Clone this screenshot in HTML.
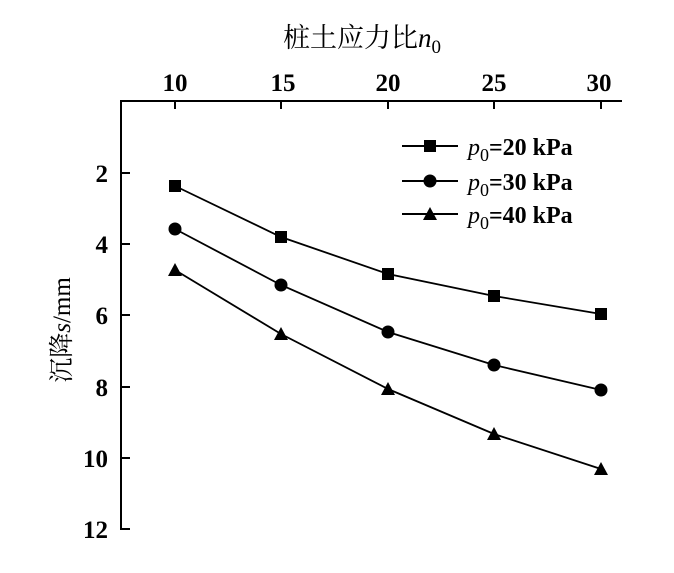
<!DOCTYPE html>
<html><head><meta charset="utf-8"><style>body{margin:0;background:#fff}</style></head>
<body>
<svg width="674" height="568" xmlns="http://www.w3.org/2000/svg" font-family="Liberation Serif, 'Noto Serif CJK SC', serif">
<rect width="674" height="568" fill="#fff"/>
<g stroke="#000" stroke-width="2" fill="none">
<line x1="121" y1="101" x2="622" y2="101"/>
<line x1="121" y1="100" x2="121" y2="530"/>
<line x1="175" y1="101" x2="175" y2="109"/><line x1="281" y1="101" x2="281" y2="109"/><line x1="388" y1="101" x2="388" y2="109"/><line x1="494" y1="101" x2="494" y2="109"/><line x1="601" y1="101" x2="601" y2="109"/>
<line x1="121" y1="173" x2="130" y2="173"/><line x1="121" y1="244" x2="130" y2="244"/><line x1="121" y1="315" x2="130" y2="315"/><line x1="121" y1="387" x2="130" y2="387"/><line x1="121" y1="458" x2="130" y2="458"/><line x1="121" y1="529" x2="130" y2="529"/>
<polyline stroke-width="1.8" points="175,186 281,237 388,274 494,296 601,314"/>
<polyline stroke-width="1.8" points="175,229 281,285 388,332 494,365 601,390"/>
<polyline stroke-width="1.8" points="175,270 281,334 388,389 494,434 601,469"/>
<line x1="402" y1="146" x2="458" y2="146"/><line x1="402" y1="181" x2="458" y2="181"/><line x1="402" y1="214" x2="458" y2="214"/>
</g>
<g fill="#000">
<rect x="169" y="180" width="12" height="12"/><rect x="275" y="231" width="12" height="12"/><rect x="382" y="268" width="12" height="12"/><rect x="488" y="290" width="12" height="12"/><rect x="595" y="308" width="12" height="12"/>
<circle cx="175" cy="229" r="6.5"/><circle cx="281" cy="285" r="6.5"/><circle cx="388" cy="332" r="6.5"/><circle cx="494" cy="365" r="6.5"/><circle cx="601" cy="390" r="6.5"/>
<path d="M175,263 l7,13 h-14z M281,327 l7,13 h-14z M388,382 l7,13 h-14z M494,427 l7,13 h-14z M601,462 l7,13 h-14z"/>
<rect x="424" y="140" width="12" height="12"/><circle cx="430" cy="181" r="6.5"/><path d="M430,207 l7,13 h-14z"/>
</g>
<g font-size="25" font-weight="bold" text-anchor="middle">
<text x="175" y="91">10</text><text x="283" y="91">15</text><text x="388" y="91">20</text><text x="494" y="91">25</text><text x="599" y="91">30</text>
</g>
<g font-size="25" font-weight="bold" text-anchor="end">
<text x="108" y="182">2</text><text x="108" y="253">4</text><text x="108" y="324">6</text><text x="108" y="396">8</text><text x="108" y="467">10</text><text x="108" y="538">12</text>
</g>
<text x="283" y="47" font-size="27">桩土应力比<tspan font-style="italic">n</tspan><tspan font-size="19" dy="6">0</tspan></text>
<text transform="translate(70,330) rotate(-90)" text-anchor="middle" font-size="25">沉降<tspan font-style="italic">s</tspan>/mm</text>
<g font-size="24" font-weight="bold">
<text x="468" y="155"><tspan font-style="italic" font-weight="normal">p</tspan><tspan font-size="18" dy="6" font-weight="normal">0</tspan><tspan dy="-6">=20 kPa</tspan></text>
<text x="468" y="190"><tspan font-style="italic" font-weight="normal">p</tspan><tspan font-size="18" dy="6" font-weight="normal">0</tspan><tspan dy="-6">=30 kPa</tspan></text>
<text x="468" y="223"><tspan font-style="italic" font-weight="normal">p</tspan><tspan font-size="18" dy="6" font-weight="normal">0</tspan><tspan dy="-6">=40 kPa</tspan></text>
</g>
</svg>
</body></html>
